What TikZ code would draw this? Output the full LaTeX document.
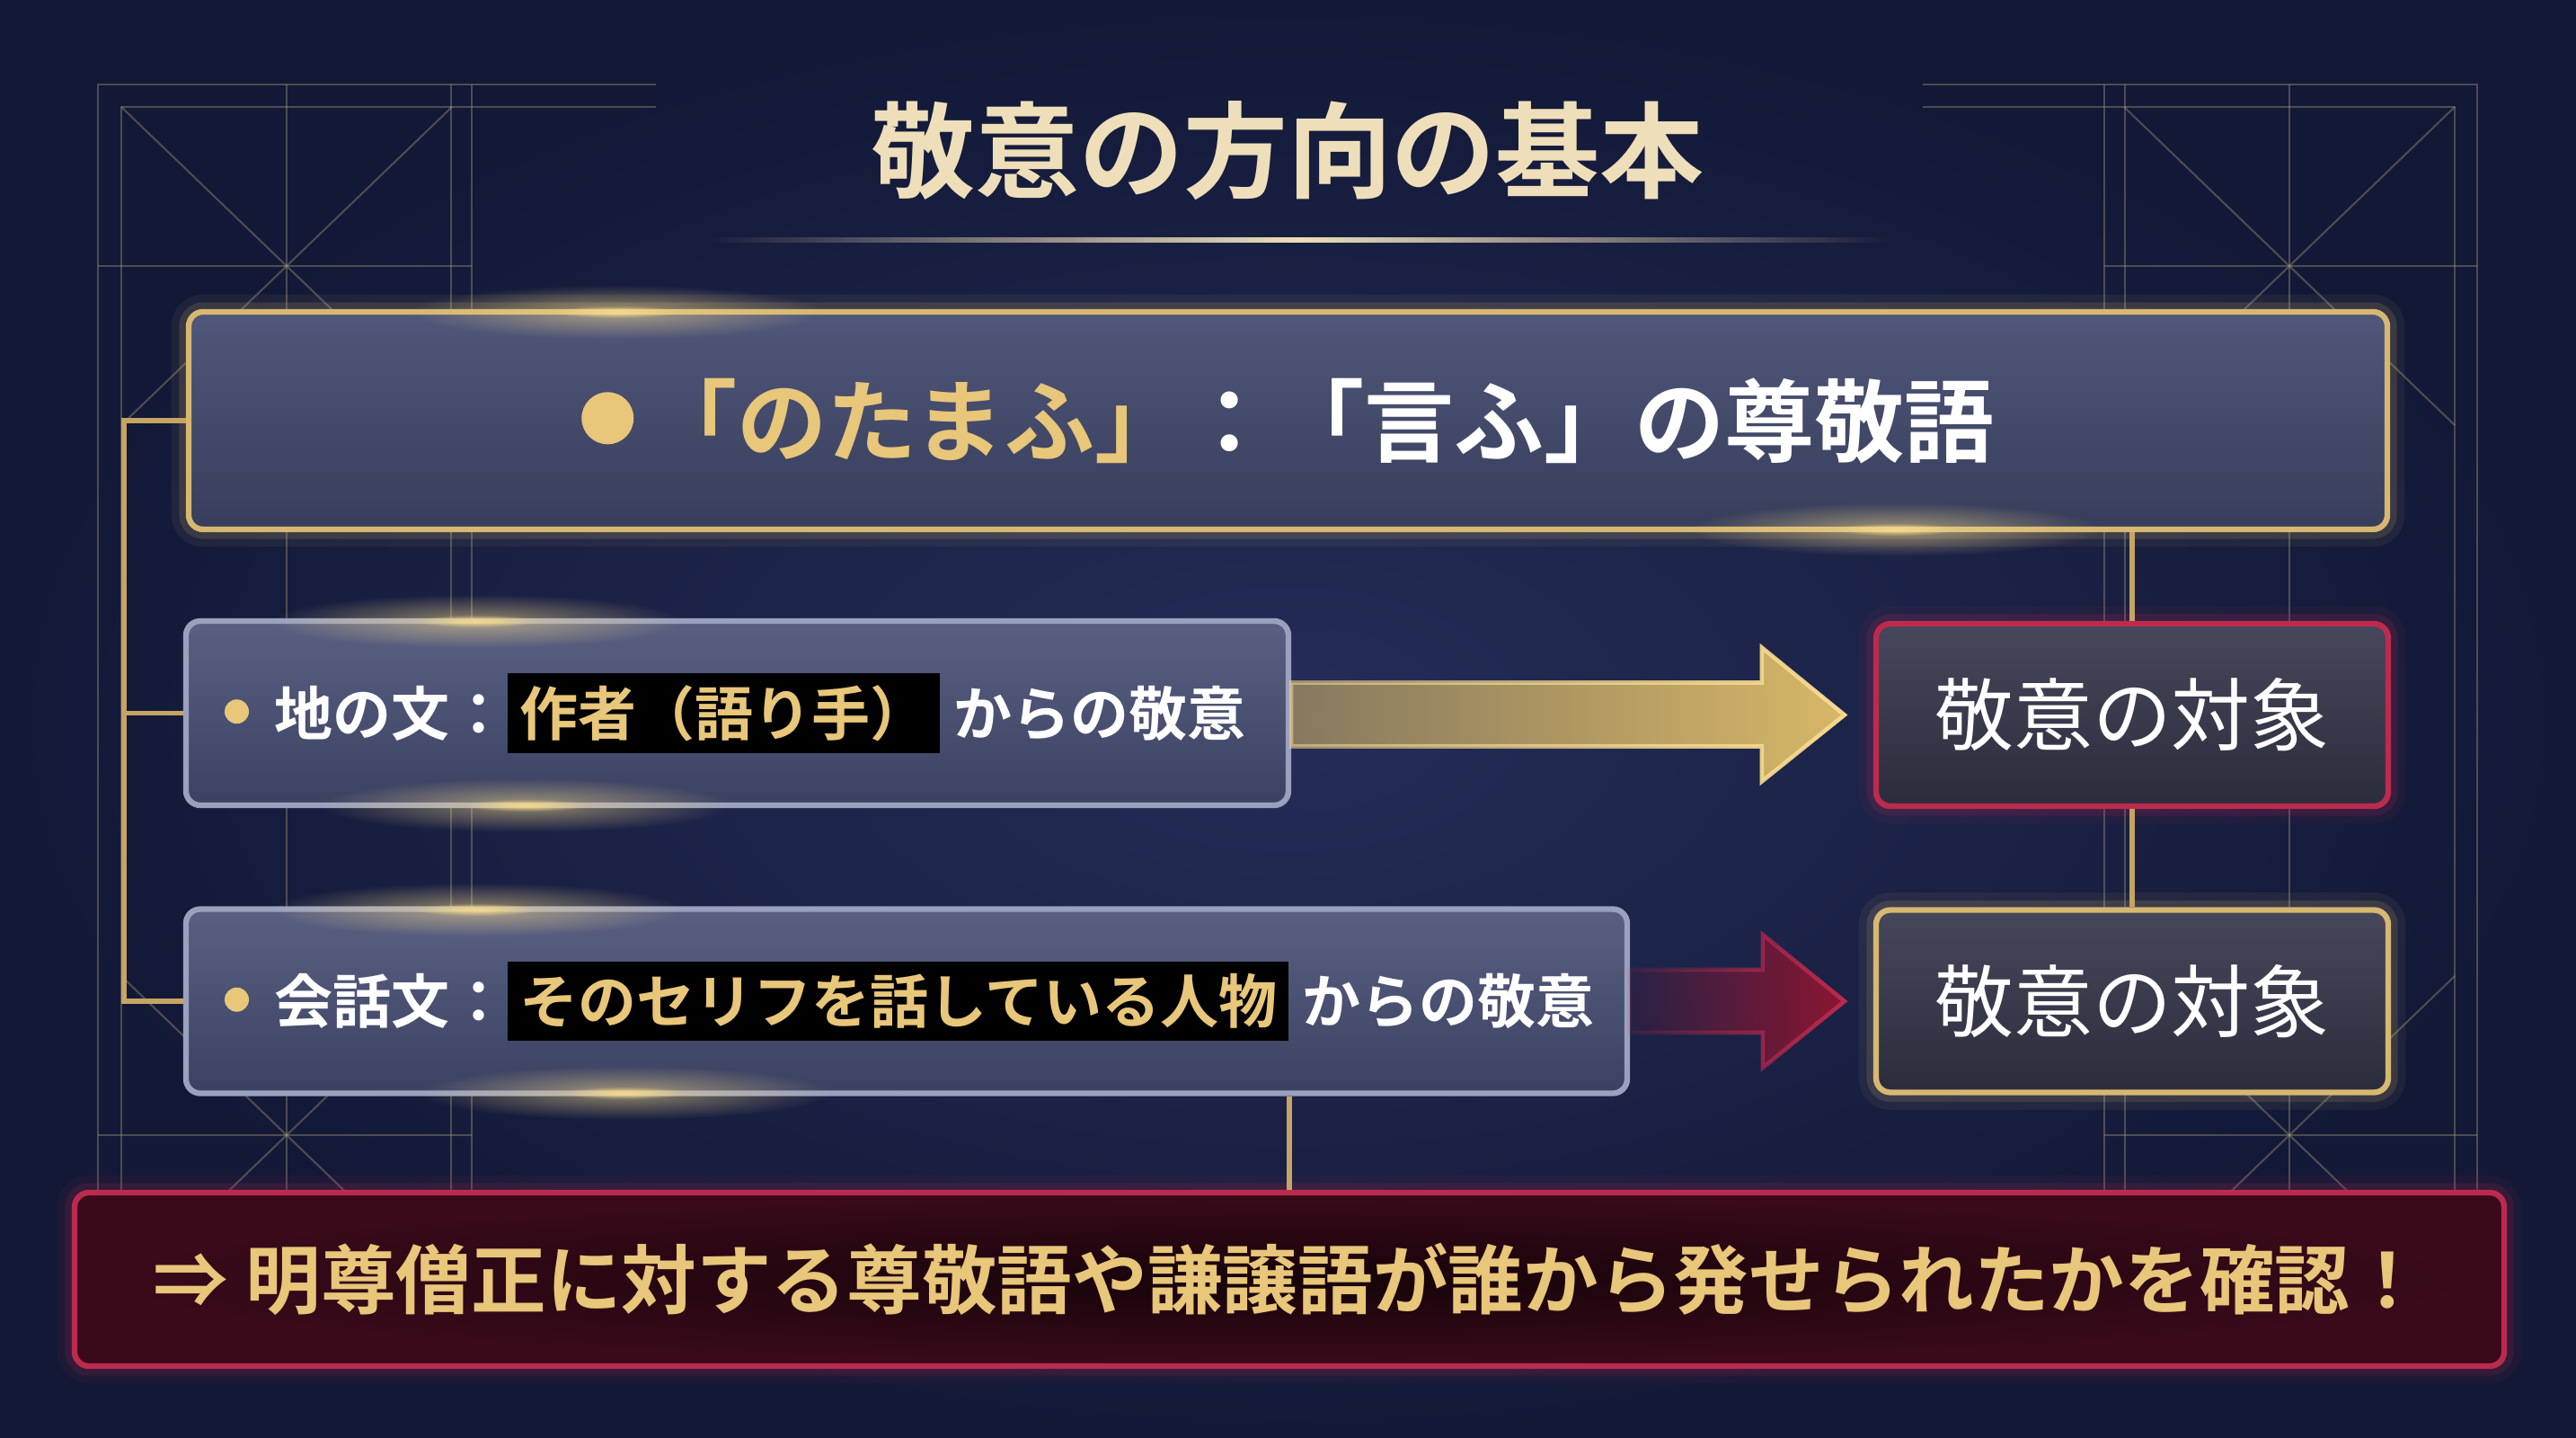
\documentclass[tikz,border=0pt]{standalone}
\usepackage{fontspec}
\newfontfamily\jp{Noto Sans CJK JP}[BoldFont={Noto Sans CJK JP Bold}]
\usetikzlibrary{fadings}
\usetikzlibrary{calc}

\definecolor{navyin}{HTML}{252D58}
\definecolor{navyout}{HTML}{121836}
\definecolor{framecol}{HTML}{A89A7A}
\definecolor{titlecol}{HTML}{EEDFBA}
\definecolor{goldtxt}{HTML}{E8C67A}
\definecolor{goldedge}{HTML}{D6B872}
\definecolor{goldline}{HTML}{C6A462}
\definecolor{goldfill}{HTML}{D8B868}
\definecolor{goldbright}{HTML}{F4D98E}
\definecolor{silveredge}{HTML}{9AA1BE}
\definecolor{crimson}{HTML}{BC2A4E}
\definecolor{redfill}{HTML}{8C1632}
\definecolor{headtop}{HTML}{50577A}
\definecolor{headbot}{HTML}{373D5A}
\definecolor{rowtop}{HTML}{5A6082}
\definecolor{rowbot}{HTML}{3B4161}
\definecolor{tgttop}{HTML}{46475B}
\definecolor{tgtbot}{HTML}{2B2C3B}
\definecolor{notein}{HTML}{160409}
\definecolor{noteout}{HTML}{3A0A1A}

\tikzfading[name=fadegold, left color=transparent!45, right color=transparent!0]
\tikzfading[name=fadered, left color=transparent!90, right color=transparent!0]
\tikzfading[name=midfade, left color=transparent!100, right color=transparent!100, middle color=transparent!0]
\tikzfading[name=flarefade, inner color=transparent!0, outer color=transparent!100]

\newcommand\dotmark[1]{\tikz[baseline=-0.75ex]\fill[goldtxt] (0,0) circle (#1);}
\newcommand\hlite[1]{{\setlength\fboxsep{0.13cm}\colorbox{black}{\color{goldtxt}#1}}}

\begin{document}
\begin{tikzpicture}[
  font=\jp,
  frameln/.style={draw=framecol, line width=0.6pt, opacity=0.4},
  link/.style={draw=goldline, line width=1.6pt},
  glow/.style={preaction={draw=#1, line width=11pt, opacity=0.07},
               preaction={draw=#1, line width=6pt, opacity=0.15}},
  basebox/.style={rounded corners=0.16cm, line width=1.8pt, inner sep=0pt},
  headbox/.style={basebox, draw=goldedge, glow=goldedge, top color=headtop, bottom color=headbot,
                  minimum width=24.47cm, minimum height=2.42cm, text=white,
                  font=\jp\bfseries\fontsize{28.5}{34}\selectfont},
  rowbox/.style={basebox, draw=silveredge, top color=rowtop, bottom color=rowbot,
                 minimum height=2.05cm, inner xsep=0.43cm, align=left, text=white,
                 font=\jp\bfseries\fontsize{18.5}{22}\selectfont},
  targetbox/.style={basebox, draw=#1, glow=#1, top color=tgttop, bottom color=tgtbot,
                    minimum width=5.70cm, minimum height=2.03cm, text=white,
                    font=\jp\fontsize{25}{30}\selectfont},
  notebox/.style={basebox, draw=crimson, glow=crimson, inner color=notein, outer color=noteout,
                  minimum width=27.04cm, minimum height=1.93cm, text=goldtxt,
                  font=\jp\bfseries\fontsize{23.8}{28}\selectfont},
  goldarrow/.style={fill=goldfill, draw=goldbright, line width=1.3pt, path fading=fadegold},
  redarrow/.style={fill=redfill, draw=crimson, line width=1.3pt, path fading=fadered},
  flare/.style={fill=goldbright, path fading=flarefade}
]
\useasboundingbox (0,0) rectangle (28.67,-16);
\shade[inner color=navyin, outer color=navyout] (0,0) rectangle (28.67,-16);

% frame
\draw[frameln] (1.09,-13.27) -- (1.09,-0.94) -- (7.3,-0.94);
\draw[frameln] (27.57,-13.27) -- (27.57,-0.94) -- (21.4,-0.94);
\draw[frameln] (1.35,-13.27) -- (1.35,-1.19) -- (7.3,-1.19);
\draw[frameln] (27.32,-13.27) -- (27.32,-1.19) -- (21.4,-1.19);
\foreach \x in {3.19,5.02,5.25,23.42,23.65,25.48}
  \draw[frameln] (\x,-0.94) -- (\x,-13.27);
\foreach \y in {-2.96,-12.63} {
  \draw[frameln] (1.09,\y) -- (5.25,\y);
  \draw[frameln] (23.42,\y) -- (27.57,\y);
}
\foreach \x/\y in {3.19/-2.96, 25.48/-2.96, 3.19/-12.63, 25.48/-12.63} {
  \draw[frameln] (\x-1.84,\y+1.77) -- (\x+1.84,\y-1.77);
  \draw[frameln] (\x+1.84,\y+1.77) -- (\x-1.84,\y-1.77);
}

% title
\node[text=titlecol, font=\jp\bfseries\fontsize{33}{40}\selectfont] (title) at (14.33,-1.68) {敬意の方向の基本};
\fill[fill=titlecol, path fading=midfade] (7.86,-2.64) rectangle (21.02,-2.70);

% boxes
\node[headbox] (topA) at (14.335,-4.68)
  {{\color{goldtxt}\dotmark{0.29}\hspace{0.15cm}「のたまふ」}：「言ふ」の尊敬語};
\node[rowbox, text width=11.41cm] (jiA) at (8.205,-7.935)
  {\mbox{\dotmark{0.135}\hspace{0.28cm}地の文：\hlite{作者（語り手）}\hspace{0.15cm}からの敬意}};
\node[rowbox, text width=15.18cm] (kaiA) at (10.09,-11.14)
  {\mbox{\dotmark{0.135}\hspace{0.28cm}会話文：\hlite{そのセリフを話している人物}\hspace{0.15cm}からの敬意}};
\node[targetbox=crimson] (tgtA) at (23.73,-7.955) {敬意の対象};
\node[targetbox=goldedge] (tgtB) at (23.73,-11.14) {敬意の対象};
\node[notebox] (noteA) at (14.35,-14.235)
  {⇒ 明尊僧正に対する尊敬語や謙譲語が誰から発せられたかを確認！};

% connectors
\draw[link] (topA.south -| tgtA.north) -- (tgtA.north);
\draw[link] (tgtA.south) -- (tgtB.north);
\draw[link] (topA.west) -- ++(-0.69,0) coordinate (brk) |- (kaiA.west);
\draw[link] (jiA.west) -- (jiA.west -| brk);
\draw[link] (kaiA.south -| noteA.north) -- (noteA.north);

% arrows
\coordinate (tipA) at ($(tgtA.west)+(-0.32,0)$);
\path[goldarrow] (tipA) -- ++(-0.92,0.75) coordinate (hbA) -- ++(0,-0.39) coordinate (stA)
  -- (stA -| jiA.east) -- ++(0,-0.71) coordinate (sbA) -- (sbA -| hbA) -- ++(0,-0.39) -- cycle;
\coordinate (tipB) at ($(tgtB.west)+(-0.32,0)$);
\path[redarrow] (tipB) -- ++(-0.91,0.74) coordinate (hbB) -- ++(0,-0.39) coordinate (stB)
  -- (stB -| kaiA.east) -- ++(0,-0.70) coordinate (sbB) -- (sbB -| hbB) -- ++(0,-0.39) -- cycle;

% flares
\foreach \x/\y in {6.86/-3.47, 21.1/-5.89, 5.3/-6.91, 5.85/-8.96, 5.3/-10.12, 6.95/-12.16} {
  \fill[flare, opacity=0.55] (\x,\y) ellipse (2.3 and 0.3);
  \fill[flare] (\x,\y) ellipse (0.7 and 0.07);
}
\end{tikzpicture}
\end{document}
